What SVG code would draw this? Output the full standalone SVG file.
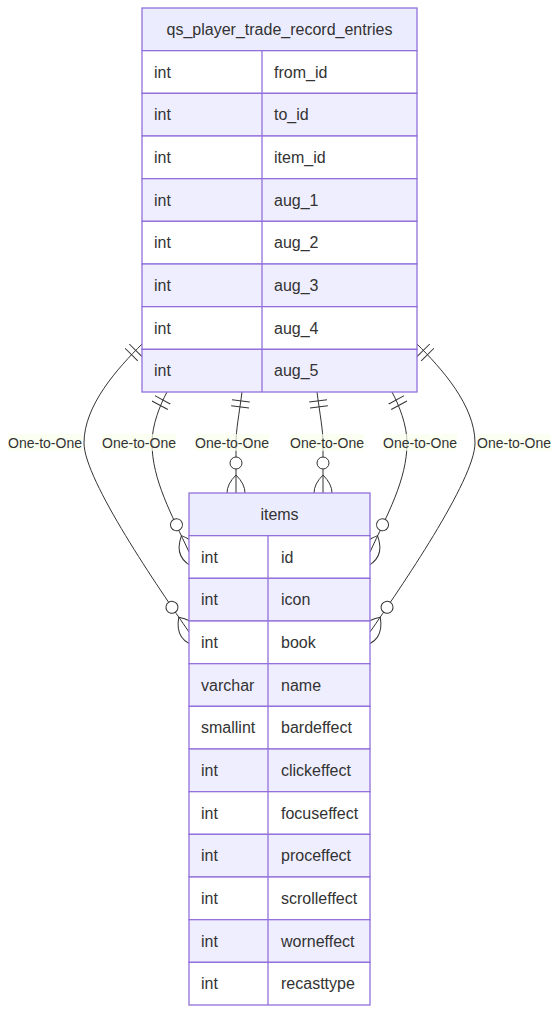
<svg xmlns="http://www.w3.org/2000/svg" width="560" height="1015" viewBox="0 0 560 1015">
<style>
.bg{fill:#ffffff}
.hdr{fill:#ECECFF;stroke:#9370DB;stroke-width:1.3}
.odd{fill:#ffffff;stroke:#9370DB;stroke-width:1.3}
.even{fill:#EFEEFF;stroke:#9370DB;stroke-width:1.3}
.div{stroke:#9370DB;stroke-width:1.3}
.t{font-family:"Liberation Sans",Arial,sans-serif;font-size:16px;fill:#333333}
.c{text-anchor:middle}
.rel{fill:none;stroke:#333333;stroke-width:1;marker-start:url(#oneStart);marker-end:url(#zmEnd)}
.lblbox{fill:hsl(80,100%,96.27%);opacity:0.7}
.lbl{font-family:"Liberation Sans",Arial,sans-serif;font-size:14px;fill:#333333;text-anchor:middle}
</style>
<defs>
<marker id="oneStart" refX="0" refY="9" markerWidth="18" markerHeight="18" orient="auto" markerUnits="userSpaceOnUse">
<path d="M9,0 L9,18 M15,0 L15,18" fill="none" stroke="#333333" stroke-width="1"/>
</marker>
<marker id="zmEnd" refX="39" refY="18" markerWidth="57" markerHeight="36" orient="auto" markerUnits="userSpaceOnUse">
<circle cx="9" cy="18" r="6" fill="#ffffff" stroke="#333333" stroke-width="1"/>
<path d="M21,18 Q39,0 57,18 Q39,36 21,18" fill="none" stroke="#333333" stroke-width="1"/>
</marker>
</defs>
<rect class="bg" x="0" y="0" width="560" height="1015"/>
<g id="connectors">
<path class="rel" d="M142,344 C118,368 84,405 84,443 C84,480 160,590 189,632"/>
<path class="rel" d="M167,392 C160,405 152,425 152,443 C152,480 172,515 189,552"/>
<path class="rel" d="M242,392 C239,415 236,430 236,443 L236,493"/>
<path class="rel" d="M317,392 C320,415 323,430 323,443 L323,493"/>
<path class="rel" d="M392,392 C399,405 407,425 407,443 C407,480 387,515 370,552"/>
<path class="rel" d="M417,344 C441,368 475,405 475,443 C475,480 399,590 370,632"/>
<g id="labels">
<rect class="lblbox" x="8" y="434" width="74" height="17"/>
<text class="lbl" x="45" y="448">One-to-One</text>
<rect class="lblbox" x="102" y="434" width="74" height="17"/>
<text class="lbl" x="139" y="448">One-to-One</text>
<rect class="lblbox" x="195" y="434" width="74" height="17"/>
<text class="lbl" x="232" y="448">One-to-One</text>
<rect class="lblbox" x="290" y="434" width="74" height="17"/>
<text class="lbl" x="327" y="448">One-to-One</text>
<rect class="lblbox" x="383" y="434" width="74" height="17"/>
<text class="lbl" x="420" y="448">One-to-One</text>
<rect class="lblbox" x="477" y="434" width="74" height="17"/>
<text class="lbl" x="514" y="448">One-to-One</text>
</g>
</g>
<g id="qs_player_trade_record_entries">
<rect class="hdr" x="142" y="8" width="275" height="42.67"/>
<text class="t c" x="279.5" y="35">qs_player_trade_record_entries</text>
<rect class="odd" x="142" y="50.67" width="275" height="42.67"/>
<rect class="even" x="142" y="93.33" width="275" height="42.67"/>
<rect class="odd" x="142" y="136" width="275" height="42.67"/>
<rect class="even" x="142" y="178.67" width="275" height="42.67"/>
<rect class="odd" x="142" y="221.33" width="275" height="42.67"/>
<rect class="even" x="142" y="264" width="275" height="42.67"/>
<rect class="odd" x="142" y="306.67" width="275" height="42.67"/>
<rect class="even" x="142" y="349.33" width="275" height="42.67"/>
<line class="div" x1="262" y1="50.67" x2="262" y2="392"/>
<text class="t" x="154" y="77.5">int</text><text class="t" x="274" y="77.5">from_id</text>
<text class="t" x="154" y="120.2">int</text><text class="t" x="274" y="120.2">to_id</text>
<text class="t" x="154" y="162.9">int</text><text class="t" x="274" y="162.9">item_id</text>
<text class="t" x="154" y="205.5">int</text><text class="t" x="274" y="205.5">aug_1</text>
<text class="t" x="154" y="248.2">int</text><text class="t" x="274" y="248.2">aug_2</text>
<text class="t" x="154" y="290.9">int</text><text class="t" x="274" y="290.9">aug_3</text>
<text class="t" x="154" y="333.5">int</text><text class="t" x="274" y="333.5">aug_4</text>
<text class="t" x="154" y="376.2">int</text><text class="t" x="274" y="376.2">aug_5</text>
</g>
<g id="items">
<rect class="hdr" x="189" y="493" width="181" height="42.67"/>
<text class="t c" x="279.5" y="520">items</text>
<rect class="odd" x="189" y="535.67" width="181" height="42.67"/>
<rect class="even" x="189" y="578.33" width="181" height="42.67"/>
<rect class="odd" x="189" y="621" width="181" height="42.67"/>
<rect class="even" x="189" y="663.67" width="181" height="42.67"/>
<rect class="odd" x="189" y="706.33" width="181" height="42.67"/>
<rect class="even" x="189" y="749" width="181" height="42.67"/>
<rect class="odd" x="189" y="791.67" width="181" height="42.67"/>
<rect class="even" x="189" y="834.33" width="181" height="42.67"/>
<rect class="odd" x="189" y="877" width="181" height="42.67"/>
<rect class="even" x="189" y="919.67" width="181" height="42.67"/>
<rect class="odd" x="189" y="962.33" width="181" height="42.67"/>
<line class="div" x1="268" y1="535.67" x2="268" y2="1005"/>
<text class="t" x="201" y="562.5">int</text><text class="t" x="281" y="562.5">id</text>
<text class="t" x="201" y="605.2">int</text><text class="t" x="281" y="605.2">icon</text>
<text class="t" x="201" y="647.9">int</text><text class="t" x="281" y="647.9">book</text>
<text class="t" x="201" y="690.5">varchar</text><text class="t" x="281" y="690.5">name</text>
<text class="t" x="201" y="733.2">smallint</text><text class="t" x="281" y="733.2">bardeffect</text>
<text class="t" x="201" y="775.9">int</text><text class="t" x="281" y="775.9">clickeffect</text>
<text class="t" x="201" y="818.5">int</text><text class="t" x="281" y="818.5">focuseffect</text>
<text class="t" x="201" y="861.2">int</text><text class="t" x="281" y="861.2">proceffect</text>
<text class="t" x="201" y="903.9">int</text><text class="t" x="281" y="903.9">scrolleffect</text>
<text class="t" x="201" y="946.5">int</text><text class="t" x="281" y="946.5">worneffect</text>
<text class="t" x="201" y="989.2">int</text><text class="t" x="281" y="989.2">recasttype</text>
</g>
</svg>
